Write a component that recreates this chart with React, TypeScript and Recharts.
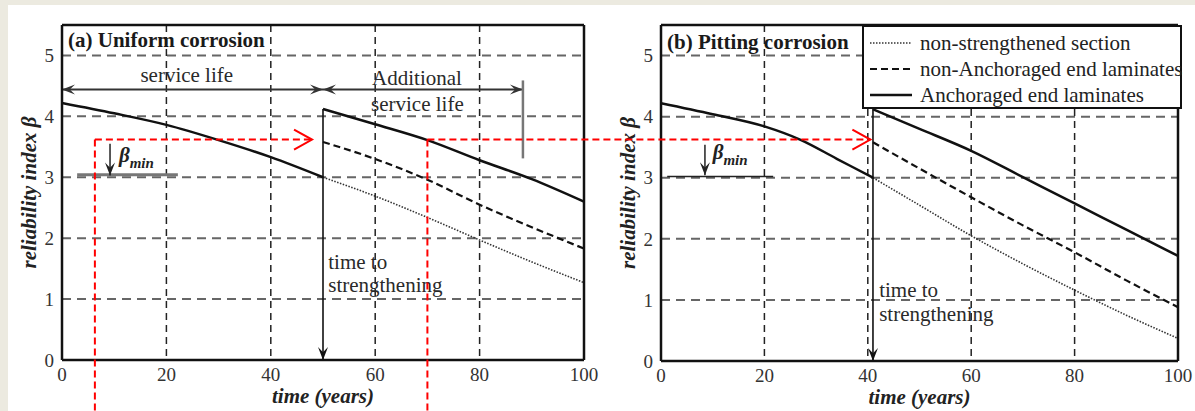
import React from 'react';
import { LineChart, Line, XAxis, YAxis, CartesianGrid, ReferenceLine, ReferenceDot, Label } from 'recharts';

const SERIF = "'Liberation Serif', 'Times New Roman', serif";

const xTicks = [0, 20, 40, 60, 80, 100];
const yTicks = [0, 1, 2, 3, 4, 5];

// (a) uniform corrosion
const uniformPreYears = [0, 10, 20, 30, 40, 50];
const uniformPre = [4.22, 4.05, 3.86, 3.61, 3.33, 3.0];
const uniformPostYears = [50, 60, 70, 80, 90, 100];
const uniformNonStrengthened = [3.0, 2.69, 2.34, 1.97, 1.61, 1.27];
const uniformNonAnchored = [3.58, 3.3, 2.96, 2.55, 2.18, 1.83];
const uniformAnchored = [4.12, 3.87, 3.61, 3.28, 2.97, 2.6];

// (b) pitting corrosion
const pittingPreYears = [0, 10, 20, 27, 34, 41];
const pittingPre = [4.22, 4.04, 3.84, 3.62, 3.31, 3.0];
const pittingPostYears = [41, 50, 60, 70, 80, 90, 100];
const pittingNonStrengthened = [3.0, 2.55, 2.05, 1.59, 1.16, 0.75, 0.37];
const pittingNonAnchored = [3.58, 3.15, 2.68, 2.22, 1.78, 1.32, 0.88];
const pittingAnchored = [4.12, 3.8, 3.44, 3.01, 2.58, 2.15, 1.72];

const legendLabels = ['non-strengthened section', 'non-Anchoraged end laminates', 'Anchoraged end laminates'];

const seriesStyles = [
  { stroke: '#333', strokeWidth: 1.6, strokeDasharray: '1.5 1.5' },
  { stroke: '#111', strokeWidth: 2.2, strokeDasharray: '7 4' },
  { stroke: '#111', strokeWidth: 2.5 },
];

const pts = (xs: number[], ys: number[]) => xs.map((t, i) => ({ t, v: ys[i] }));

// swallowtail arrow head, tip at (x,y) pointing along (ux,uy)
const head = (x: number, y: number, ux: number, uy: number, len = 13, half = 5) => {
  const bx = x - ux * len, by = y - uy * len;
  const mx = x - ux * len * 0.6, my = y - uy * len * 0.6;
  return `${x},${y} ${bx - uy * half},${by + ux * half} ${mx},${my} ${bx + uy * half},${by - ux * half}`;
};

function ArrowShape(props: any) {
  const { x1, y1, x2, y2, color = '#111', width = 1.5, both = false } = props;
  const L = Math.hypot(x2 - x1, y2 - y1) || 1;
  const ux = (x2 - x1) / L, uy = (y2 - y1) / L;
  return (
    <g>
      <line x1={x1} y1={y1} x2={x2} y2={y2} stroke={color} strokeWidth={width} />
      <polygon points={head(x2, y2, ux, uy)} fill={color} />
      {both && <polygon points={head(x1, y1, -ux, -uy)} fill={color} />}
    </g>
  );
}

const note = (x: number, y: number, content: React.ReactNode, style: React.CSSProperties = {}) => (
  <ReferenceDot
    x={x}
    y={y}
    r={0}
    shape={(p: any) => (
      <text x={p.cx} y={p.cy} style={{ fontFamily: SERIF, fontSize: 21, fill: '#2a2a2a', ...style }}>
        {content}
      </text>
    )}
  />
);

const betaMin = (
  <>
    <tspan fontWeight="bold" fontStyle="italic">β</tspan>
    <tspan fontWeight="bold" fontStyle="italic" fontSize={15} dy={6}>min</tspan>
  </>
);

type PanelProps = {
  title: string;
  titleAt: [number, number];
  width: number;
  margin: { top: number; right: number; bottom: number; left: number };
  preYears: number[];
  pre: number[];
  postYears: number[];
  post: number[][];
  strengthenAt: number;
  strengthenTop: number;
  strengthenText: [number, number, number];
  betaArrow: [number, number, number];
  betaLine: [number, number, number];
  betaLineStyle: { stroke: string; width: number };
  betaText: [number, number];
  serviceLife?: boolean;
};

function Panel(p: PanelProps) {
  return (
    <LineChart width={p.width} height={411} margin={p.margin}>
      <CartesianGrid horizontal vertical={false} stroke="#666" strokeWidth={2} strokeDasharray="9 6" />
      <CartesianGrid horizontal={false} vertical stroke="#222" strokeWidth={1.5} strokeDasharray="7 5" />
      <XAxis
        dataKey="t"
        type="number"
        domain={[0, 100]}
        ticks={xTicks}
        interval={0}
        height={30}
        tickLine={false}
        tickSize={6}
        tickMargin={2}
        axisLine={{ stroke: '#111', strokeWidth: 2.5 }}
        tick={{ fontFamily: SERIF, fontSize: 19, fill: '#333' }}
      >
        <Label
          content={(lp: any) => {
            const vb = lp.viewBox;
            return (
              <text x={vb.x + vb.width / 2} y={vb.y + 43} textAnchor="middle"
                style={{ fontFamily: SERIF, fontSize: 21, fontWeight: 'bold', fontStyle: 'italic', fill: '#222' }}>
                time (years)
              </text>
            );
          }}
        />
      </XAxis>
      <YAxis
        type="number"
        domain={[0, 5.5]}
        ticks={yTicks}
        interval={0}
        width={30}
        tickLine={false}
        tickSize={6}
        tickMargin={2}
        axisLine={{ stroke: '#111', strokeWidth: 2.5 }}
        tick={{ fontFamily: SERIF, fontSize: 19, fill: '#333' }}
      >
        <Label
          content={(lp: any) => {
            const vb = lp.viewBox;
            const x = vb.x - 3;
            const y = p.margin.top + (411 - p.margin.top - p.margin.bottom - 30) / 2;
            return (
              <text x={x} y={y} textAnchor="middle" dominantBaseline="central" transform={`rotate(-90 ${x} ${y})`}
                style={{ fontFamily: SERIF, fontSize: 21, fontWeight: 'bold', fontStyle: 'italic', fill: '#222' }}>
                reliability index β
              </text>
            );
          }}
        />
      </YAxis>
      <ReferenceLine y={5.5} stroke="#111" strokeWidth={2.5} />
      <ReferenceLine x={100} stroke="#111" strokeWidth={2.5} />

      {/* beta_min marker */}
      <ReferenceLine
        segment={[{ x: p.betaLine[0], y: p.betaLine[2] }, { x: p.betaLine[1], y: p.betaLine[2] }]}
        stroke={p.betaLineStyle.stroke}
        strokeWidth={p.betaLineStyle.width}
      />
      <ReferenceLine
        segment={[{ x: p.betaArrow[0], y: p.betaArrow[1] }, { x: p.betaArrow[0], y: p.betaArrow[2] }]}
        shape={(sp: any) => <ArrowShape {...sp} color="#222" width={1.5} />}
      />
      {note(p.betaText[0], p.betaText[1], betaMin, { fill: '#222' })}

      <Line data={pts(p.preYears, p.pre)} dataKey="v" type="monotone" dot={false} isAnimationActive={false} {...seriesStyles[2]} />
      {p.post.map((vals, i) => (
        <Line key={i} data={pts(p.postYears, vals)} dataKey="v" type="monotone" dot={false} isAnimationActive={false} {...seriesStyles[i]} />
      ))}

      {/* time to strengthening */}
      <ReferenceLine
        segment={[{ x: p.strengthenAt, y: p.strengthenTop }, { x: p.strengthenAt, y: 0 }]}
        shape={(sp: any) => <ArrowShape {...sp} color="#111" width={1.6} />}
      />
      {note(p.strengthenText[0], p.strengthenText[1], 'time to')}
      {note(p.strengthenText[0], p.strengthenText[2], 'strengthening')}

      {p.serviceLife && (
        <>
          <ReferenceLine
            segment={[{ x: 0, y: 4.44 }, { x: 50, y: 4.44 }]}
            shape={(sp: any) => <ArrowShape {...sp} color="#333" width={2} both />}
          />
          <ReferenceLine
            segment={[{ x: 50, y: 4.44 }, { x: 88.3, y: 4.44 }]}
            shape={(sp: any) => <ArrowShape {...sp} color="#333" width={2} both />}
          />
          <ReferenceLine segment={[{ x: 88.3, y: 4.59 }, { x: 88.3, y: 3.31 }]} stroke="#777" strokeWidth={2.5} />
          {note(23.9, 4.56, 'service life', { textAnchor: 'middle' })}
          {note(59.4, 4.52, 'Additional')}
          {note(59.2, 4.09, 'service life')}
        </>
      )}

      {note(p.titleAt[0], p.titleAt[1], p.title, { fontWeight: 'bold', fill: '#1a1a1a' })}
    </LineChart>
  );
}

// pixel helpers for the overlay annotation that spans both panels
const ax = (t: number) => 62 + t * 5.22;
const ay = (b: number) => 360 - b * (335 / 5.5);
const bx = (t: number) => 661 + t * 5.17;

function Chevron({ x, y }: { x: number; y: number }) {
  return <polyline points={`${x - 18},${y - 10} ${x},${y} ${x - 18},${y + 10}`} fill="none" stroke="#f00" strokeWidth={2} />;
}

export default function App() {
  const redY = ay(3.62);
  return (
    <div style={{ position: 'fixed', left: 0, top: 0, width: 1195, height: 411, background: '#ECEAE0', overflow: 'hidden' }}>
      <div style={{ position: 'absolute', left: 8, top: 5, right: 0, bottom: 0, background: '#fff' }} />
      <div style={{ position: 'absolute', left: 0, top: 0 }}>
        <Panel
          title="(a) Uniform corrosion"
          titleAt={[1.15, 5.14]}
          width={600}
          margin={{ top: 25, right: 16, bottom: 21, left: 32 }}
          preYears={uniformPreYears}
          pre={uniformPre}
          postYears={uniformPostYears}
          post={[uniformNonStrengthened, uniformNonAnchored, uniformAnchored]}
          strengthenAt={50}
          strengthenTop={4.12}
          strengthenText={[51, 1.49, 1.12]}
          betaArrow={[9.2, 3.55, 3.03]}
          betaLine={[2.9, 22.2, 3.04]}
          betaLineStyle={{ stroke: '#777', width: 3 }}
          betaText={[10.9, 3.25]}
          serviceLife
        />
      </div>
      <div style={{ position: 'absolute', left: 600, top: 0 }}>
        <Panel
          title="(b) Pitting corrosion"
          titleAt={[1.16, 5.1]}
          width={595}
          margin={{ top: 25, right: 17, bottom: 20, left: 31 }}
          preYears={pittingPreYears}
          pre={pittingPre}
          postYears={pittingPostYears}
          post={[pittingNonStrengthened, pittingNonAnchored, pittingAnchored]}
          strengthenAt={41}
          strengthenTop={4.3}
          strengthenText={[42.2, 1.05, 0.66]}
          betaArrow={[8.5, 3.54, 3.04]}
          betaLine={[1.2, 21.7, 3.02]}
          betaLineStyle={{ stroke: '#222', width: 1.5 }}
          betaText={[10, 3.3]}
        />
      </div>

      {/* legend of panel (b) */}
      <div style={{ position: 'absolute', left: 862, top: 25, width: 320, height: 84, boxSizing: 'border-box', border: '2px solid #111', background: '#fff', fontFamily: SERIF, fontSize: 21, color: '#222' }}>
        {legendLabels.map((label, i) => (
          <div key={label} style={{ position: 'absolute', left: 0, top: 3 + i * 26, height: 26, lineHeight: '26px', whiteSpace: 'nowrap' }}>
            <svg width={50} height={26} style={{ position: 'absolute', left: 6, top: 0 }}>
              <line x1={0} y1={13} x2={42} y2={13} stroke={seriesStyles[i].stroke} strokeWidth={seriesStyles[i].strokeWidth} strokeDasharray={seriesStyles[i].strokeDasharray} />
            </svg>
            <span style={{ position: 'absolute', left: 56, top: 0 }}>{label}</span>
          </div>
        ))}
      </div>

      {/* red dashed overlay */}
      <svg width={1195} height={411} style={{ position: 'absolute', left: 0, top: 0, pointerEvents: 'none' }}>
        <g stroke="#f00" strokeWidth={2} strokeDasharray="7 4" fill="none">
          <line x1={ax(6.3)} y1={redY} x2={ax(6.3)} y2={411} />
          <line x1={ax(6.3)} y1={redY} x2={ax(47.9)} y2={redY} />
          <line x1={ax(70)} y1={redY} x2={ax(70)} y2={411} />
          <line x1={ax(70)} y1={redY} x2={bx(40.5)} y2={redY} />
        </g>
        <Chevron x={ax(47.9)} y={redY} />
        <Chevron x={bx(40.5)} y={redY} />
      </svg>
    </div>
  );
}
